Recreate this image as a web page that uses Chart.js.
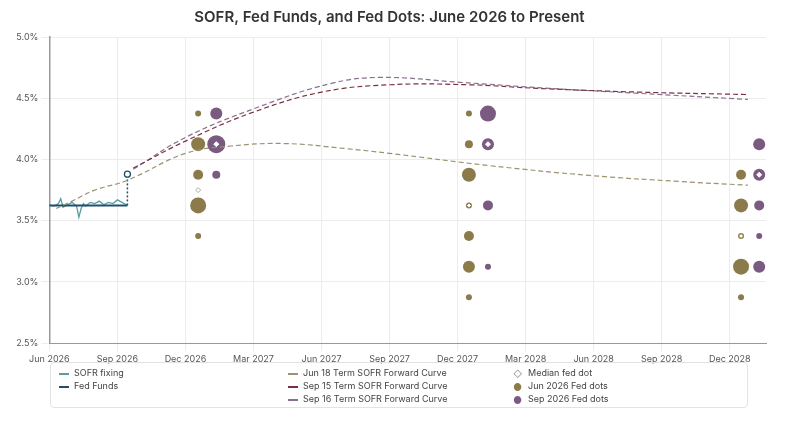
<!DOCTYPE html><html><head><script src="https://cdn.jsdelivr.net/npm/chart.js@4"></script>
<style>body{margin:0;background:#fff;font-family:Inter,"Noto Sans",sans-serif}#w{position:relative;width:800px;height:438px}
#c{position:absolute;left:0;top:0}
#lg{position:absolute;left:50px;top:362px;width:696px;height:44px;border:1px solid #e3e3e3;border-radius:4px;font-size:9px;color:#444}
.i{position:absolute;white-space:nowrap}.s{display:inline-block;width:10px;margin-right:5px;vertical-align:middle}</style></head><body>
<div id="w"><canvas id="c" width="800" height="368"></canvas>
<div id="lg">
<div class="i" style="left:8px;top:4px"><span class="s" style="border-top:2px solid #5a9ea0"></span>SOFR fixing</div>
<div class="i" style="left:8px;top:17px"><span class="s" style="border-top:2px solid #1f4e6e"></span>Fed Funds</div>
<div class="i" style="left:237px;top:4px"><span class="s" style="border-top:2px dashed #9a9270"></span>Jun 18 Term SOFR Forward Curve</div>
<div class="i" style="left:237px;top:17px"><span class="s" style="border-top:2px dashed #7a3040"></span>Sep 15 Term SOFR Forward Curve</div>
<div class="i" style="left:237px;top:30px"><span class="s" style="border-top:2px dashed #8a7090"></span>Sep 16 Term SOFR Forward Curve</div>
<div class="i" style="left:462px;top:4px"><span class="s" style="color:#999;font-size:9px">◇</span>Median fed dot</div>
<div class="i" style="left:462px;top:17px"><span class="s" style="color:#8c7b4a;font-size:10px">●</span>Jun 2026 Fed dots</div>
<div class="i" style="left:462px;top:30px"><span class="s" style="color:#7a5a80;font-size:10px">●</span>Sep 2026 Fed dots</div>
</div></div>
<script>
const tickLabels=["Jun 2026","Sep 2026","Dec 2026","Mar 2027","Jun 2027","Sep 2027","Dec 2027","Mar 2028","Jun 2028","Sep 2028","Dec 2028"];
const sofrX=[0,0.2,0.4,0.5,0.6,0.8,1.0,1.2,1.3,1.4,1.5,1.6,1.8,2.0,2.2,2.4,2.6,2.8,3.0,3.2,3.4];
const sofrY=[3.63,3.62,3.64,3.68,3.61,3.63,3.65,3.62,3.53,3.60,3.64,3.62,3.65,3.64,3.66,3.63,3.65,3.64,3.67,3.65,3.63];
const ffX=[0,3.44]; const ffY=[3.625,3.625];
const stepX=[3.44,3.44]; const stepY=[3.625,3.88];
const jun18X=[0.3,1.0,2.0,3.44,6,8,10.4,13,15,19.4,23.8,27.8,30.8];
const jun18Y=[3.6,3.66,3.75,3.83,4.05,4.11,4.13,4.09,4.05,3.95,3.87,3.82,3.79];
const sep15X=[3.7,6,8.9,12,15,18.5,21.6,26,30.8];
const sep15Y=[3.93,4.15,4.38,4.55,4.61,4.61,4.58,4.55,4.53];
const sep16X=[3.7,6,9.1,12.4,14.6,18.1,22.1,26,30.8];
const sep16Y=[3.92,4.18,4.42,4.62,4.67,4.63,4.58,4.54,4.49];
const junDotX=[6.56,6.56,6.56,6.56,6.56,18.5,18.5,18.5,18.5,18.5,18.5,18.5,30.5,30.5,30.5,30.5,30.5];
const junDotY=[4.375,4.125,3.875,3.625,3.375,4.375,4.125,3.875,3.625,3.375,3.125,2.875,3.875,3.625,3.375,3.125,2.875];
const junDotR=[3,7,5,8,3,3,4,7,3,5,6,3,5,7,3,8,3];
const sepDotX=[7.36,7.36,7.36,19.34,19.34,19.34,19.34,31.3,31.3,31.3,31.3,31.3];
const sepDotY=[4.375,4.125,3.875,4.375,4.125,3.625,3.125,4.125,3.875,3.625,3.375,3.125];
const sepDotR=[6,9,4,8,6,5,3,6,6,5,3,6];
const medX=[6.56,7.36,18.5,19.34,30.5,31.3];
const medY=[3.75,4.125,3.625,4.125,3.375,3.875];
const medFill=["#fff","#fff","#fff","#fff","#fff","#fff"];
const medBorder=["#aaa","#fff","#8c7b4a","#fff","#8c7b4a","#fff"];
const pts=(X,Y)=>X.map((x,i)=>({x,y:Y[i]}));
const line=(X,Y,c,w,dash)=>({type:'line',data:pts(X,Y),borderColor:c,borderWidth:w,borderDash:dash,pointRadius:0,tension:0.4,fill:false});
new Chart(document.getElementById('c'),{data:{datasets:[
{type:'bubble',data:medX.map((x,i)=>({x,y:medY[i],r:2.5})),pointStyle:'rectRot',backgroundColor:medFill,borderColor:medBorder,borderWidth:1,order:0},
{type:'bubble',data:junDotX.map((x,i)=>({x,y:junDotY[i],r:junDotR[i]})),backgroundColor:'#8c7b4a',borderWidth:0,order:1},
{type:'bubble',data:sepDotX.map((x,i)=>({x,y:sepDotY[i],r:sepDotR[i]})),backgroundColor:'#7a5a80',borderWidth:0,order:1},
{...line(sofrX,sofrY,'#5a9ea0',1.3,[]),tension:0,order:3},
{...line(ffX,ffY,'#1f4e6e',2,[]),tension:0,order:2},
{...line(stepX,stepY,'#1f4e6e',1.5,[2,2]),tension:0,order:2,pointRadius:[0,3],pointBackgroundColor:'#fff',pointBorderColor:'#1f4e6e',pointBorderWidth:1.3},
line(jun18X,jun18Y,'#9a9270',1.2,[5,3]),
line(sep15X,sep15Y,'#7a3040',1.2,[5,3]),
line(sep16X,sep16Y,'#8a7090',1.2,[5,3])
]},options:{responsive:false,animation:false,layout:{padding:{left:13,right:34,top:0}},
plugins:{legend:{display:false},tooltip:{enabled:false},title:{display:true,text:'SOFR, Fed Funds, and Fed Dots: June 2026 to Present',font:{size:15,weight:'600',family:'Inter'},color:'#333',padding:{top:8,bottom:11}}},
scales:{x:{type:'linear',min:0,max:31.6,afterBuildTicks:a=>{a.ticks=tickLabels.map((_,i)=>({value:i*3}));},
ticks:{callback:v=>tickLabels[v/3],font:{size:9,family:'Inter'},color:'#555',maxRotation:0,autoSkip:false},grid:{color:'#ececec'},border:{color:'#999',width:1}},
y:{min:2.5,max:5,ticks:{stepSize:0.5,callback:v=>v.toFixed(1)+'%',font:{size:9,family:'Inter'},color:'#555'},grid:{color:'#ececec'},border:{color:'#999',width:1.5}}}}});
</script></body></html>
